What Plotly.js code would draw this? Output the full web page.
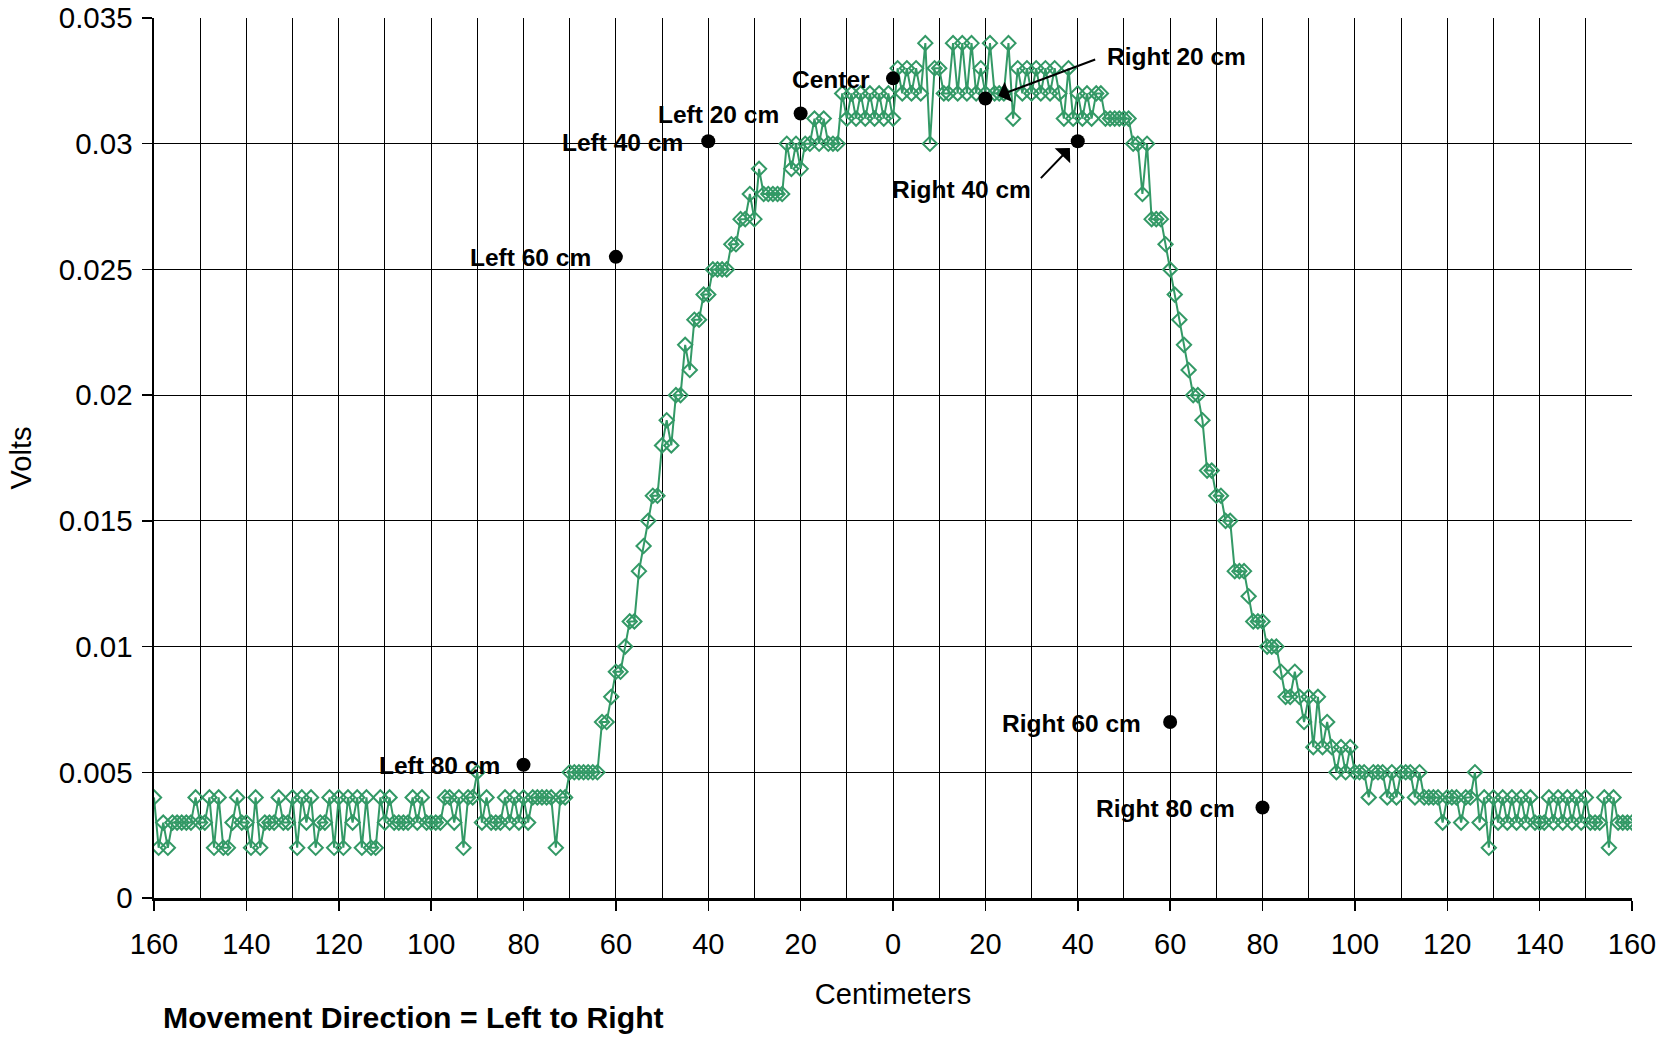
<!DOCTYPE html>
<html>
<head>
<meta charset="utf-8">
<script src="https://cdn.plot.ly/plotly-3.0.1.min.js"></script>
<style>
  html, body { margin: 0; padding: 0; background: #ffffff; }
  #chart { width: 1671px; height: 1037px; }
</style>
</head>
<body>
<div id="chart"></div>
<script>
// ---- sampling grid (centimeters, signed: left of center negative) ----
const cmStart = -160;
const cmStep = 1;

// ---- measured volts, read off the reference, one value per centimeter ----
// -160 .. -71 cm : background level on the left
const leftNoise = [
  0.004, 0.002, 0.003, 0.002, 0.003, 0.003, 0.003, 0.003, 0.003, 0.004,
  0.003, 0.003, 0.004, 0.002, 0.004, 0.002, 0.002, 0.003, 0.004, 0.003,
  0.003, 0.002, 0.004, 0.002, 0.003, 0.003, 0.003, 0.004, 0.003, 0.003,
  0.004, 0.002, 0.004, 0.003, 0.004, 0.002, 0.003, 0.003, 0.004, 0.002,
  0.004, 0.002, 0.004, 0.003, 0.004, 0.002, 0.004, 0.002, 0.002, 0.004,
  0.003, 0.004, 0.003, 0.003, 0.003, 0.003, 0.004, 0.003, 0.004, 0.003,
  0.003, 0.003, 0.003, 0.004, 0.004, 0.003, 0.004, 0.002, 0.004, 0.004,
  0.005, 0.003, 0.004, 0.003, 0.003, 0.003, 0.004, 0.003, 0.004, 0.003,
  0.004, 0.003, 0.004, 0.004, 0.004, 0.004, 0.004, 0.002, 0.004, 0.004
];
// -70 .. -24 cm : rising edge
const rise = [
  0.005, 0.005, 0.005, 0.005, 0.005, 0.005, 0.005, 0.007, 0.007, 0.008,
  0.009, 0.009, 0.010, 0.011, 0.011, 0.013, 0.014, 0.015, 0.016, 0.016,
  0.018, 0.019, 0.018, 0.020, 0.020, 0.022, 0.021, 0.023, 0.023, 0.024,
  0.024, 0.025, 0.025, 0.025, 0.025, 0.026, 0.026, 0.027, 0.027, 0.028,
  0.027, 0.029, 0.028, 0.028, 0.028, 0.028, 0.028
];
// -23 .. 55 cm : top plateau
const plateau = [
  0.030, 0.029, 0.030, 0.029, 0.030, 0.030, 0.031, 0.030, 0.031, 0.030,
  0.030, 0.030, 0.032, 0.031, 0.032, 0.031, 0.032, 0.031, 0.032, 0.031,
  0.032, 0.031, 0.032, 0.031, 0.033, 0.032, 0.033, 0.032, 0.033, 0.032,
  0.034, 0.030, 0.033, 0.033, 0.032, 0.032, 0.034, 0.032, 0.034, 0.032,
  0.034, 0.032, 0.033, 0.032, 0.034, 0.032, 0.032, 0.032, 0.034, 0.031,
  0.033, 0.032, 0.033, 0.032, 0.033, 0.032, 0.033, 0.032, 0.033, 0.032,
  0.031, 0.033, 0.031, 0.032, 0.031, 0.032, 0.031, 0.032, 0.032, 0.031,
  0.031, 0.031, 0.031, 0.031, 0.031, 0.030, 0.030, 0.028, 0.030
];
// 56 .. 100 cm : falling edge
const fall = [
  0.027, 0.027, 0.027, 0.026, 0.025, 0.024, 0.023, 0.022, 0.021, 0.020,
  0.020, 0.019, 0.017, 0.017, 0.016, 0.016, 0.015, 0.015, 0.013, 0.013,
  0.013, 0.012, 0.011, 0.011, 0.011, 0.010, 0.010, 0.010, 0.009, 0.008,
  0.008, 0.009, 0.008, 0.007, 0.008, 0.006, 0.008, 0.006, 0.007, 0.006,
  0.005, 0.006, 0.005, 0.006, 0.005
];
// 101 .. 160 cm : background level on the right
const rightNoise = [
  0.005, 0.005, 0.004, 0.005, 0.005, 0.005, 0.004, 0.005, 0.004, 0.005,
  0.005, 0.005, 0.004, 0.005, 0.004, 0.004, 0.004, 0.004, 0.003, 0.004,
  0.004, 0.004, 0.003, 0.004, 0.004, 0.005, 0.003, 0.004, 0.002, 0.004,
  0.003, 0.004, 0.003, 0.004, 0.003, 0.004, 0.003, 0.004, 0.003, 0.003,
  0.003, 0.004, 0.003, 0.004, 0.003, 0.004, 0.003, 0.004, 0.003, 0.004,
  0.003, 0.003, 0.003, 0.004, 0.002, 0.004, 0.003, 0.003, 0.003, 0.003
];

// ---- reference (static) points ----
const refLabels = ["Left 80 cm", "Left 60 cm", "Left 40 cm", "Left 20 cm", "Center",
                   "Right 20 cm", "Right 40 cm", "Right 60 cm", "Right 80 cm"];
const refCm    = [-80, -60, -40, -20, 0, 20, 40, 60, 80];
const refVolts = [0.0053, 0.0255, 0.0301, 0.0312, 0.0326, 0.0318, 0.0301, 0.0070, 0.0036];

// ---- axis ticks ----
const xTickVals = [-160, -140, -120, -100, -80, -60, -40, -20, 0, 20, 40, 60, 80, 100, 120, 140, 160];
const xTickText = ["160", "140", "120", "100", "80", "60", "40", "20", "0", "20", "40", "60", "80", "100", "120", "140", "160"];

const volts = [].concat(leftNoise, rise, plateau, fall, rightNoise);
const cm = volts.map((_, i) => cmStart + i * cmStep);

const green = "#339966";
const FONT = "Liberation Sans, Arial, sans-serif";

const traces = [
  {
    x: cm, y: volts, type: "scatter", mode: "lines+markers",
    line: { color: green, width: 2 },
    marker: { symbol: "diamond-open", size: 11, color: green, line: { color: green, width: 2 } },
    hoverinfo: "x+y", showlegend: false
  },
  {
    x: refCm, y: refVolts, type: "scatter", mode: "markers",
    marker: { symbol: "circle", size: 14, color: "#000000" },
    showlegend: false
  }
];

// label annotations beside the dots (all but the two arrowed ones)
const plainLabels = ["Left 80 cm", "Left 60 cm", "Left 40 cm", "Left 20 cm", "Center", "Right 60 cm", "Right 80 cm"];
const labelShift = { "Left 80 cm": -22, "Left 60 cm": -23, "Left 40 cm": -23, "Left 20 cm": -20,
                     "Center": -21, "Right 60 cm": -27, "Right 80 cm": -26 };
const annFont = { family: FONT, size: 24.5, color: "#000000" };
const annotations = [];
plainLabels.forEach(lbl => {
  const i = refLabels.indexOf(lbl);
  annotations.push({
    x: refCm[i], y: refVolts[i], xref: "x", yref: "y",
    text: "<b>" + lbl + "</b>", showarrow: false,
    xanchor: "right", yanchor: "middle", xshift: labelShift[lbl], yshift: -1,
    font: annFont
  });
});
// Right 20 cm: text + arrow
annotations.push({
  x: 45.9, y: 0.03345, xref: "x", yref: "y", text: "<b>Right 20 cm</b>",
  showarrow: false, xanchor: "left", yanchor: "middle", font: annFont
});
annotations.push({
  x: 22.8, y: 0.03191, xref: "x", yref: "y", ax: 44.1, ay: 0.03337, axref: "x", ayref: "y",
  text: "", showarrow: true, arrowhead: 1, arrowsize: 1.8, arrowwidth: 2, arrowcolor: "#000000"
});
// Right 40 cm: text + arrow
annotations.push({
  x: 14.9, y: 0.02817, xref: "x", yref: "y", text: "<b>Right 40 cm</b>",
  showarrow: false, xanchor: "center", yanchor: "middle", font: annFont
});
annotations.push({
  x: 38.3, y: 0.02983, xref: "x", yref: "y", ax: 31.7, ay: 0.02857, axref: "x", ayref: "y",
  text: "", showarrow: true, arrowhead: 1, arrowsize: 1.8, arrowwidth: 2, arrowcolor: "#000000"
});
// caption below the chart
annotations.push({
  x: 0.005, y: -0.136, xref: "paper", yref: "paper", xanchor: "left", yanchor: "middle",
  text: "<b>Movement Direction = Left to Right</b>", showarrow: false,
  font: { family: FONT, size: 30.2, color: "#000000" }
});

const layout = {
  width: 1671, height: 1037,
  margin: { l: 154, r: 39, t: 18, b: 139, pad: 0 },
  paper_bgcolor: "#ffffff", plot_bgcolor: "#ffffff",
  font: { family: FONT, size: 29, color: "#000000" },
  showlegend: false,
  xaxis: {
    range: [-160, 160], tickmode: "array", tickvals: xTickVals, ticktext: xTickText,
    ticks: "outside", ticklen: 10, tickwidth: 1.5, tickcolor: "#000000",
    ticklabelstandoff: 9,
    showgrid: true, gridcolor: "#000000", gridwidth: 1,
    minor: { dtick: 10, tick0: 0, showgrid: true, gridcolor: "#000000", gridwidth: 1, ticks: "" },
    zeroline: false, showline: true, linecolor: "#000000", linewidth: 2.5,
    tickfont: { family: FONT, size: 29, color: "#000000" },
    title: { text: "Centimeters", font: { family: FONT, size: 29, color: "#000000" }, standoff: 25 },
    automargin: false, fixedrange: true
  },
  yaxis: {
    range: [0, 0.035], tickmode: "linear", tick0: 0, dtick: 0.005,
    ticks: "outside", ticklen: 10, tickwidth: 1.5, tickcolor: "#000000",
    ticklabelstandoff: 3,
    showgrid: true, gridcolor: "#000000", gridwidth: 1,
    zeroline: false, showline: true, linecolor: "#000000", linewidth: 2.5,
    tickfont: { family: FONT, size: 29.5, color: "#000000" },
    title: { text: "Volts", font: { family: FONT, size: 29, color: "#000000" }, standoff: 19 },
    automargin: false, fixedrange: true
  },
  annotations: annotations
};

Plotly.newPlot("chart", traces, layout, { displayModeBar: false, staticPlot: true });
</script>
</body>
</html>
